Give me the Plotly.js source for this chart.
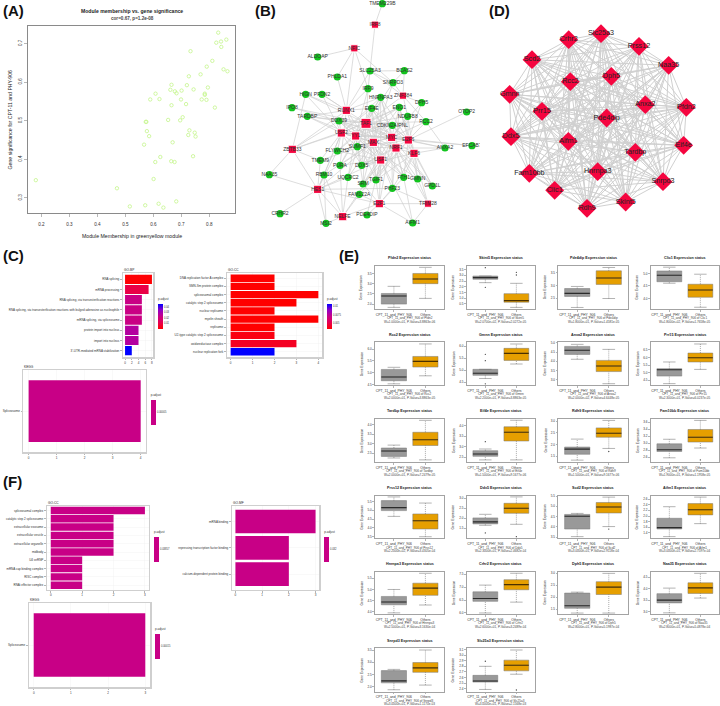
<!DOCTYPE html>
<html>
<head>
<meta charset="utf-8">
<script src="https://cdn.plot.ly/plotly-3.0.1.min.js"></script>
<style>html,body{margin:0;padding:0;background:#fff}#chart{width:720px;height:706px}</style>
</head>
<body>
<div id="chart"></div>
<script>
// ---------- Panel A ----------
const mmValues = [0.18,0.47,0.516,0.571,0.619,0.636,0.682,0.601,0.607,0.625,0.664,0.676,0.742,0.669,0.567,0.585,0.577,0.575,0.573,0.653,0.696,0.705,0.729,0.725,0.748,0.751,0.589,0.608,0.622,0.665,0.661,0.665,0.677,0.683,0.699,0.701,0.717,0.72,0.727,0.744,0.733,0.769,0.773,0.784,0.784,0.79,0.791,0.795,0.82,0.811,0.825,0.832,0.842,0.843,0.861,0.851,0.865];
const gsValues = [0.346,0.325,0.278,0.281,0.285,0.275,0.291,0.349,0.393,0.406,0.395,0.393,0.408,0.444,0.438,0.46,0.473,0.497,0.497,0.502,0.501,0.509,0.475,0.463,0.469,0.459,0.555,0.57,0.556,0.54,0.58,0.593,0.576,0.571,0.555,0.578,0.543,0.592,0.615,0.581,0.68,0.62,0.555,0.57,0.567,0.554,0.64,0.586,0.534,0.655,0.702,0.728,0.705,0.691,0.71,0.633,0.628];

// ---------- Panel B network ----------
const bNames = ["TMEM229B","IRF8","NFIC","ALDOAP","PHLDA1","SLC25A3","BCAS2","SNRPD3","IRF9","HIGN","PFDN2","ZNF384","HNRNPA3","DPH5","IPO8","RUNX1","EIF4E","ENO1","OTOP2","TARDBP","NDUFB8","RCC2","DDX39","TAF1","CDKN2AIPNL","USF2","YY1","MYC","E2F6","MAX","EFCAB7","ANXA2","SUMF1","NRF1","ZBTB33","FLYWCH2","KLF6","USF1","TMEM9","PURA","DDX5","RBM10","NAA35","UQCRC2","FTH1","TGIF1","GMNN","SRM","GPD1L","HES1","PHF23","FAM122A","E2F1","TRIM28","CRHR2","NELFE","PDE4DIP","MSI2","AIFM1"];
const bPosX = [427,405,343,233,292,390,493,459,384,197,246,489,422,545,156,319,395,478,680,202,503,558,297,378,457,304,347,455,505,400,696,615,352,468,157,292,522,422,241,300,365,252,88,324,491,408,533,369,577,233,457,358,418,564,120,308,381,258,518];
const bPosY = [11,74,145,171,231,213,212,248,266,283,283,287,292,308,323,331,325,322,336,349,349,365,363,370,376,399,408,412,420,427,437,444,440,444,448,453,460,480,481,496,496,525,524,532,532,540,537,552,558,568,565,583,611,611,641,650,645,670,669];
const bTF = ["IRF8","NFIC","ZNF384","RUNX1","TAF1","USF2","YY1","MYC","E2F6","MAX","NRF1","ZBTB33","KLF6","USF1","HES1","E2F1","TRIM28","NELFE"];
const bEdges = {
  TMEM229B:["IRF8"], IRF8:["SLC25A3"],
  NFIC:["ALDOAP","PHLDA1","IRF9","RUNX1","SNRPD3"],
  PHLDA1:["RUNX1"], SLC25A3:["BCAS2","IRF9","ZNF384","RUNX1","SNRPD3"], BCAS2:["ZNF384","SNRPD3"],
  SNRPD3:["TAF1","ZNF384","MAX"],
  HIGN:["RUNX1","TAF1","ZBTB33","USF2"], PFDN2:["RUNX1","TAF1","USF2"],
  IPO8:["DDX39","TAF1"], TARDBP:["DDX39","TAF1","USF2","RUNX1","YY1"],
  ZBTB33:["USF2","DDX39","TMEM9","NAA35","HES1","TAF1","RUNX1"],
  NAA35:["HES1"], CRHR2:["HES1"],
  HES1:["MSI2","NELFE","USF2","E2F1","FLYWCH2","TMEM9","RBM10","UQCRC2","USF1","MAX","PHF23"],
  MSI2:["NELFE","RBM10"], NELFE:["E2F1","RBM10","UQCRC2","PURA","FAM122A","USF1"],
  PDE4DIP:["E2F1","USF1"],
  E2F1:["AIFM1","TRIM28","FAM122A","SRM","TGIF1","PHF23","USF1","FTH1","MYC"],
  TRIM28:["AIFM1","KLF6","PHF23","GMNN","NRF1"], AIFM1:["FTH1","USF1"],
  GPD1L:["KLF6","NRF1","E2F6","MYC"], GMNN:["KLF6","E2F6","NRF1"],
  OTOP2:["E2F6"], EFCAB7:["E2F6","MYC"], ANXA2:["E2F6","KLF6","RCC2","MYC","NRF1"],
  RCC2:["ZNF384","TAF1","E2F6"], DPH5:["ZNF384","E2F6","MYC"], NDUFB8:["E2F6","MYC","ZNF384"],
  TAF1:["DDX39","IRF9","HNRNPA3","EIF4E","ENO1","NDUFB8","CDKN2AIPNL","SUMF1","FLYWCH2","DDX5","PURA","UQCRC2","SRM","TGIF1","FTH1","ZNF384","MYC","E2F6","MAX","USF1","NRF1","KLF6"],
  USF2:["DDX39","EIF4E","HNRNPA3","SUMF1","FLYWCH2","DDX5","TMEM9","RBM10","CDKN2AIPNL","ENO1","MYC","E2F6","MAX","NRF1","KLF6"],
  YY1:["DDX39","EIF4E","IRF9","HNRNPA3","ENO1","CDKN2AIPNL","SUMF1","FLYWCH2","PURA","DDX5","UQCRC2","TGIF1","SRM","MYC","E2F6","USF1","GMNN"],
  MAX:["DDX39","EIF4E","HNRNPA3","ENO1","CDKN2AIPNL","SUMF1","FLYWCH2","PURA","DDX5","UQCRC2","TGIF1","SRM","FTH1","PHF23","RBM10","TMEM9"],
  MYC:["DDX39","EIF4E","HNRNPA3","ENO1","NDUFB8","RCC2","SUMF1","DDX5","TGIF1","SRM","FTH1","PHF23","FLYWCH2"],
  E2F6:["HNRNPA3","ENO1","CDKN2AIPNL","EIF4E","SUMF1","DDX5","TGIF1","FTH1","FAM122A","DDX39"],
  NRF1:["EIF4E","ENO1","SUMF1","DDX5","TGIF1","FTH1","PHF23","SRM","HNRNPA3","DDX39"],
  USF1:["SUMF1","DDX5","TGIF1","PURA","EIF4E","FLYWCH2","FTH1","SRM","DDX39","HNRNPA3"],
  KLF6:["ENO1","CDKN2AIPNL","DDX5","TGIF1","FTH1","PHF23","NDUFB8"],
  RUNX1:["DDX39","EIF4E","IRF9","HNRNPA3","USF1","YY1","PURA"]
};

// ---------- Panel D network ----------
const dNames = ["Slc25a3","Crhr2","Prss12","Scd2","Naa35","Dph5","Rcc2","Gmnn","Anxa2","Pfdn2","Prr15","Pde4dip","Ddx5","Aifm1","Eif4e","Tardbp","Fam10bb","Hnrnpa3","Snrpd3","Clic1","Skint5","Rdh9"];
const dPosX = [363,266,477,156,566,394,271,89,496,619,186,380,93,265,611,466,148,353,549,224,437,321];
const dPosY = [101,119,139,179,196,229,245,283,314,322,334,354,410,424,436,457,520,515,545,571,606,625];

// ---------- Panel C bars ----------
const cBpTerms = ["RNA splicing","mRNA processing","RNA splicing, via transesterification reactions","RNA splicing, via transesterification reactions with bulged adenosine as nucleophile","mRNA splicing, via spliceosome","protein import into nucleus","import into nucleus","3'-UTR-mediated mRNA stabilization"];
const cBpCount = [8,7,5,5,5,4,4,2];
const cBpP = [0.0005,0.01,0.022,0.022,0.022,0.027,0.027,0.045];
const cBpTicks = [0.01,0.02,0.03,0.04];
const cCcTerms = ["DNA replication factor A complex","SMN-Sm protein complex","spliceosomal complex","catalytic step 2 spliceosome","nuclear replisome","myelin sheath","replisome","U2-type catalytic step 2 spliceosome","oxidoreductase complex","nuclear replication fork"];
const cCcCount = [2,2,4,3,2,4,2,2,3,2];
const cCcP = [0.0033,0.0033,0.0033,0.0033,0.0033,0.0033,0.0033,0.0037,0.0041,0.0108];
const cCcTicks = [0.005,0.0075,0.01];
const cKeggTerms = ["Spliceosome"];
const cKeggCount = [4];
const cKeggP = [0.00005];

// ---------- Panel F bars ----------
const fCcTerms = ["spliceosomal complex","catalytic step 2 spliceosome","extracellular exosome","extracellular vesicle","extracellular organelle","midbody","U4 snRNP","mRNA cap binding complex","RISC complex","RNAi effector complex"];
const fCcCount = [3,2,2,2,2,2,1,1,1,1];
const fCcP = [0.03857];
const fMfTerms = ["mRNA binding","repressing transcription factor binding","calcium-dependent protein binding"];
const fMfCount = [3,2,2];
const fMfP = [0.0320];
const fKeggTerms = ["Spliceosome"];
const fKeggCount = [3];
const fKeggP = [0.000150];

// ---------- Panel E boxes ----------
const eGenes = ["Pfdn2","Skint5","Pde4dip","Clic1","Rcc2","Gmnn","Anxa2","Prr15","Tardbp","Eif4e","Rdh9","Fam10bb","Prss12","Ddx5","Scd2","Aifm1","Hnrnpa3","Crhr2","Dph5","Naa35","Snrpd3","Slc25a3"];
const eStats = ["W=1.0000e+01, P-Value=3.8863e-06","W=2.0700e+02, P-Value=2.0272e-05","W=1.8000e+01, P-Value=1.4581e-05","W=1.8000e+02, P-Value=1.7658e-05","W=2.0000e+01, P-Value=3.8863e-05","W=2.2000e+01, P-Value=3.8863e-05","W=2.0000e+02, P-Value=4.6448e-05","W=2.3000e+01, P-Value=6.0237e-05","W=2.0000e+01, P-Value=7.2479e-05","W=1.5000e+01, P-Value=9.1677e-06","W=1.5000e+01, P-Value=9.1677e-06","W=1.9000e+01, P-Value=1.1958e-05","W=2.2000e+02, P-Value=3.4305e-04","W=2.3000e+01, P-Value=2.4682e-04","W=3.0000e+01, P-Value=2.9118e-04","W=3.0000e+01, P-Value=2.7597e-04","W=2.5000e+01, P-Value=3.1630e-04","W=2.6000e+01, P-Value=3.2489e-04","W=2.8000e+01, P-Value=5.1987e-04","W=2.8000e+01, P-Value=5.4878e-04","W=3.0000e+01, P-Value=1.1170e-03","W=3.0000e+01, P-Value=2.1568e-03"];
const eTicks = [[3.5,3,2.5,2],[3.5,3,2.5,2,1.5,1,0.5],[3.5,3,2.5],[5,4.5,4],[6,5.5,5,4.5],[6,5.5,5,4.5],[5,4.5,4,3.5,3],[6.5,6,5.5,5,4.5],[4,3.5,3,2.5],[4,3.5,3,2.5],[3,2.5,2,1.5],[3.6,3.4,3.2,3,2.8,2.6],[5.5,5,4.5,4,3.5],[3,2.5,2,1.5],[5.5,5,4.5,4,3.5],[2.6,2.4,2.2,2,1.8,1.6,1.4],[5.5,5,4.5,4],[7.5,7,6.5,6],[3,2.5,2,1.5],[4.5,4,3.5,3],[3.5,3,2.5,2],[3.1,3,2.9,2.8,2.7,2.6,2.5,2.4]];
const eRanges = [[1.76,3.88],[0.06,3.84],[2.08,3.77],[3.58,5.31],[4.48,6.29],[4.39,6.16],[2.73,5.02],[4.18,7.0],[2.05,4.29],[2.27,4.32],[1.25,3.09],[2.46,3.69],[3.4,5.83],[1.0,3.13],[3.45,5.52],[1.21,2.72],[3.91,5.79],[5.96,7.6],[1.29,3.07],[2.91,4.74],[1.8,3.57],[2.35,3.12]];
const grayLow = [1.84,2.36,2.14,4.61,4.53,4.66,4.11,4.27,2.26,2.37,1.33,2.58,4.65,1.65,3.53,1.27,3.96,6.0,1.33,2.96,1.88,2.39];
const grayQ1 = [2.0,2.65,2.57,4.67,4.66,4.79,4.37,4.77,2.34,2.54,1.58,2.76,4.98,1.72,3.9,1.54,4.32,6.45,1.53,3.39,2.16,2.52];
const grayMed = [2.4,2.8,2.69,4.93,4.82,4.88,4.59,5.19,2.62,2.65,1.8,2.81,5.15,1.82,4.52,1.59,4.44,6.56,1.64,3.51,2.24,2.54];
const grayQ3 = [2.52,2.94,2.88,5.1,5.14,5.04,4.8,5.26,2.78,2.81,1.89,2.98,5.55,2.02,4.61,1.92,4.69,6.82,2.17,3.79,2.66,2.64];
const grayHigh = [2.87,2.94,2.96,5.25,5.23,5.04,4.91,5.7,2.93,2.89,2.23,3.11,5.76,2.2,4.66,2.33,5.0,7.08,2.21,4.03,2.71,2.8];
const orangeLow = [2.28,0.2,2.49,3.65,4.87,5.26,2.8,5.21,2.16,2.37,1.83,2.86,3.49,1.7,4.02,1.73,4.31,6.42,1.33,3.6,2.07,2.66];
const orangeQ1 = [3.0,0.65,3.04,4.05,5.24,5.41,3.45,5.7,2.91,3.27,2.31,3.03,3.93,2.25,4.68,2.04,4.74,6.9,2.11,3.8,2.59,2.72];
const orangeMed = [3.23,0.79,3.29,4.34,5.48,5.7,3.75,5.98,3.21,3.69,2.48,3.17,4.4,2.5,4.97,2.22,5.06,7.1,2.42,4.04,2.77,2.82];
const orangeQ3 = [3.5,1.4,3.57,4.57,5.69,5.91,4.05,6.29,3.6,3.95,2.71,3.39,4.79,2.75,5.19,2.44,5.28,7.29,2.65,4.26,2.99,2.91];
const orangeHigh = [3.8,2.3,3.7,4.97,6.22,6.09,4.64,6.89,4.22,4.26,3.03,3.65,5.41,3.07,5.45,2.67,5.72,7.54,3.0,4.67,3.5,3.09];
const grayOut = [[],[3.67,1.95],[],[],[],[5.66,5.4,4.44],[],[],[],[3.24],[],[],[],[1.27],[],[],[],[],[],[],[],[2.89]];
const orangeOut = [[],[3.26,3.03],[],[],[],[],[],[],[],[],[1.7],[2.52],[],[1.08],[3.9],[],[],[],[],[],[],[2.38]];

// ---------- helpers ----------
const W = 720, H = 706;
const traces = [];
const layout = {width:W, height:H, margin:{l:0,r:0,t:0,b:0,pad:0}, paper_bgcolor:'#fff', plot_bgcolor:'#fff',
  showlegend:false, boxmode:'overlay', barmode:'overlay', annotations:[], font:{family:'"Liberation Sans",Arial,sans-serif',color:'#222'}};
let axisCount = 0;
function addAxes(box, xo, yo){
  axisCount++;
  const s = axisCount === 1 ? '' : String(axisCount);
  layout['xaxis'+s] = Object.assign({domain:[box[0]/W, box[1]/W], anchor:'y'+s, zeroline:false, showgrid:false}, xo);
  layout['yaxis'+s] = Object.assign({domain:[1-box[3]/H, 1-box[2]/H], anchor:'x'+s, zeroline:false, showgrid:false}, yo);
  return {xaxis:'x'+s, yaxis:'y'+s};
}
function note(text, x, y, size, opts){
  layout.annotations.push(Object.assign({text:text, x:x/W, y:1-y/H, xref:'paper', yref:'paper', showarrow:false,
    xanchor:'center', yanchor:'middle', font:{size:size, color:'#222'}, borderpad:0}, opts||{}));
}
function edgeLine(pairs, lookup){
  const xs = [], ys = [];
  pairs.forEach(p => { const a = lookup[p[0]], b = lookup[p[1]]; xs.push(a[0], b[0], null); ys.push(a[1], b[1], null); });
  return {xs, ys};
}

// panel letters
[["(A)",2,11],["(B)",254,11],["(C)",2,255],["(D)",488,11],["(E)",338,256],["(F)",2,482]].forEach(l =>
  note('<b>'+l[0]+'</b>', l[1], l[2], 15, {xanchor:'left', font:{size:15, color:'#111'}}));

// ---------- A ----------
const frameA = {showline:true, mirror:true, linecolor:'#8a8a8a', linewidth:1.2, ticks:'outside', ticklen:2.5, tickcolor:'#888', tickwidth:0.6, tickfont:{size:4.6,color:'#333'}};
let ax = addAxes([28,235,25.7,213],
  Object.assign({}, frameA, {range:[0.152,0.892], tickmode:'array', tickvals:[0.2,0.3,0.4,0.5,0.6,0.7,0.8], ticktext:['0.2','0.3','0.4','0.5','0.6','0.7','0.8'], ticklabelstandoff:4}),
  Object.assign({}, frameA, {range:[0.261,0.746], tickmode:'array', tickvals:[0.3,0.4,0.5,0.6,0.7], ticktext:['0.3','0.4','0.5','0.6','0.7'], tickangle:-90}));
traces.push(Object.assign({type:'scatter', mode:'markers', x:mmValues, y:gsValues, hoverinfo:'skip',
  marker:{symbol:'circle-open', size:3.4, color:'#c4f58c', line:{width:0.8, color:'#c4f58c'}}}, ax));
note('<b>Module membership vs. gene significance</b>', 132, 11, 5.1);
note('<b>cor=0.67, p=1.2e-08</b>', 132, 18, 4.6, {font:{size:4.6,color:'#444'}});
note('Module Membership in greenyellow module', 132, 236, 5.2);
note('Gene significance for CPT-11 and PHY-906', 9.5, 120, 5.2, {textangle:-90});

// ---------- B ----------
const bLookup = {}; bNames.forEach((n,i) => bLookup[n] = [bPosX[i], bPosY[i]]);
const bPairs = [];
Object.keys(bEdges).forEach(k => bEdges[k].forEach(t => bPairs.push([k,t])));
const hiddenAxis = {visible:false};
ax = addAxes([240,480,0,240], Object.assign({range:[0,720]},hiddenAxis), Object.assign({range:[720,0]},hiddenAxis));
let e = edgeLine(bPairs, bLookup);
traces.push(Object.assign({type:'scatter', mode:'lines', x:e.xs, y:e.ys, hoverinfo:'skip', line:{color:'#cfcfcf', width:0.7}}, ax));
const bGreen = bNames.filter(n => !bTF.includes(n));
traces.push(Object.assign({type:'scatter', mode:'markers+text', x:bGreen.map(n=>bLookup[n][0]), y:bGreen.map(n=>bLookup[n][1]), text:bGreen,
  textposition:'middle center', textfont:{size:5,color:'#333'}, hoverinfo:'skip', marker:{symbol:'circle', size:7.2, color:'#12c41e', opacity:1}}, ax));
traces.push(Object.assign({type:'scatter', mode:'markers+text', x:bTF.map(n=>bLookup[n][0]), y:bTF.map(n=>bLookup[n][1]), text:bTF,
  textposition:'middle center', textfont:{size:5,color:'#333'}, hoverinfo:'skip',
  marker:{symbol:'square', opacity:1, size:bTF.map(n=>n==='TAF1'?10:(['YY1','MAX','USF2','MYC','E2F6','NRF1','RUNX1','KLF6','USF1','HES1','E2F1','NELFE','ZBTB33'].includes(n)?8.2:7.2)), color:'#f5053f'}}, ax));

// ---------- D ----------
const dLookup = {}; dNames.forEach((n,i) => dLookup[n] = [dPosX[i], dPosY[i]]);
const dPairs = [];
dNames.forEach((a,i) => dNames.forEach((b,j) => { if (j>i) dPairs.push([a,b]); }));
ax = addAxes([480,720,0,225], Object.assign({range:[0,720]},hiddenAxis), Object.assign({range:[675,0]},hiddenAxis));
e = edgeLine(dPairs, dLookup);
traces.push(Object.assign({type:'scatter', mode:'lines', x:e.xs, y:e.ys, hoverinfo:'skip', line:{color:'#d0d0d0', width:1}}, ax));
traces.push(Object.assign({type:'scatter', mode:'markers+text', x:dPosX, y:dPosY, text:dNames, textposition:'middle center',
  textfont:{size:7.2,color:'#222'}, hoverinfo:'skip', marker:{symbol:'diamond', size:14.5, color:'#f5053f', opacity:1}}, ax));

// ---------- Bars ----------
const redBlue = [[0,'#ff0000'],[0.25,'#e6004f'],[0.5,'#c80086'],[0.75,'#9400c4'],[1,'#0000ff']];
const magenta = [[0,'#c80086'],[1,'#c80086']];
function barPanel(title, terms, counts, pvals, box, xrange, xticks, pad, cb){
  const n = terms.length;
  const grid = {showgrid:true, gridcolor:'#efefef', gridwidth:0.4};
  const frame = {showline:true, mirror:true, linecolor:'#cfcfcf', linewidth:1.2, ticks:'outside', ticklen:1.6, tickwidth:0.4, tickcolor:'#444', tickfont:{size:3,color:'#333'}};
  const a = addAxes(box,
    Object.assign({}, frame, grid, {range:xrange, tickmode:'array', tickvals:xticks, ticktext:xticks.map(String)}),
    Object.assign({}, frame, grid, {type:'category', categoryorder:'array', categoryarray:terms, range:[n-1+pad,-pad], tickmode:'array', tickvals:terms, ticktext:terms}));
  const single = pvals.length === 1;
  const titleRoom = 11;
  const mk = {
    color: terms.map((t,i)=> single ? pvals[0] : pvals[i]),
    colorscale: single ? magenta : redBlue,
    cmin: single ? pvals[0]*0.5 : cb.cmin,
    cmax: single ? pvals[0]*1.5 : cb.cmax,
    showscale:true,
    colorbar:{x:cb.x/W, xanchor:'left', y:1-(cb.y+cb.len/2-titleRoom/2)/H, yanchor:'middle', len:cb.len+titleRoom, lenmode:'pixels', thickness:cb.w, thicknessmode:'pixels',
      xpad:0, ypad:0, outlinewidth:0, borderwidth:0, ticks:'', tickfont:{size:2.6,color:'#333'}, tickmode:'array',
      tickvals: single ? [pvals[0]] : cb.ticks, ticktext: (single ? [pvals[0]] : cb.ticks).map(String),
      title:{text:'p.adjust', side:'top', font:{size:3,color:'#333'}}}
  };
  traces.push(Object.assign({type:'bar', orientation:'h', x:counts, y:terms, width:0.9, hoverinfo:'skip', marker:mk}, a));
  note(title, box[0], box[2]-2.8, 3.2, {xanchor:'left'});
}
barPanel('GO-BP', cBpTerms, cBpCount, cBpP, [122.7,153.3,272.7,357.3], [-0.7,8.4], [0,2,4,6,8], 0.65, {x:158,y:305.7,len:23.4,w:4.7,cmin:0,cmax:0.045,ticks:cBpTicks});
barPanel('GO-CC', cCcTerms, cCcCount, cCcP, [226.7,322.3,272.7,357.3], [-0.18,4.18], [0,1,2,3,4], 0.68, {x:327,y:305.7,len:23.4,w:4.7,cmin:0.0033,cmax:0.0108,ticks:cCcTicks});
barPanel('KEGG', cKeggTerms, cKeggCount, cKeggP, [23.3,146,370,452.3], [-0.19,4.19], [0,1,2,3,4], 0.6, {x:150.7,y:401.7,len:22.6,w:4.7});
barPanel('GO-CC', fCcTerms, fCcCount, fCcP, [46.7,149,505.7,590], [-0.13,3.13], [0,1,2,3], 0.58, {x:154,y:538.3,len:23.4,w:4.7});
barPanel('GO-MF', fMfTerms, fMfCount, fMfP, [231.7,319.3,505.7,590], [-0.14,3.14], [0,1,2,3], 0.6, {x:324.3,y:538.3,len:23.4,w:4.7});
barPanel('KEGG', fKeggTerms, fKeggCount, fKeggP, [28.7,150.3,602.7,687.3], [-0.135,3.135], [0,1,2,3], 0.6, {x:155,y:635.7,len:23.4,w:4.7});

// ---------- E ----------
const colX0 = [375,466.7,558.3,650.7], colX1 = [444.3,535,627.7,719];
const rowY0 = [265.7,342.3,419,495.7,571.7,648.3], rowY1 = [309,385,462,538.3,614,691.7];
const eGroups = ['CPT_11_and_PHY_906','Others'];
eGenes.forEach((g,i) => {
  const c = i%4, r = Math.floor(i/4);
  const box = [colX0[c],colX1[c],rowY0[r],rowY1[r]];
  const frame = {showline:true, mirror:true, linecolor:'#a3a3a3', linewidth:1, ticks:'outside', ticklen:1.6, tickwidth:0.4, tickcolor:'#444', tickfont:{size:3.1,color:'#333'}};
  const a = addAxes(box,
    Object.assign({}, frame, {range:[0.4,2.6], tickmode:'array', tickvals:[1,2], ticktext:eGroups, tickfont:{size:3.4,color:'#333'}}),
    Object.assign({}, frame, {range:eRanges[i], tickmode:'array', tickvals:eTicks[i], ticktext:eTicks[i].map(v=>v.toFixed(1))}));
  [[1,'#999999','#2b2b2b',grayLow,grayQ1,grayMed,grayQ3,grayHigh,grayOut],
   [2,'#e69f00','#4a3000',orangeLow,orangeQ1,orangeMed,orangeQ3,orangeHigh,orangeOut]].forEach(s => {
    const cxv = s[0], lo = s[3][i], q1 = s[4][i], med = s[5][i], q3 = s[6][i], hi = s[7][i];
    // dotted whiskers and solid caps, R boxplot style
    traces.push(Object.assign({type:'scatter', mode:'lines', x:[cxv,cxv,null,cxv,cxv], y:[lo,q1,null,q3,hi], hoverinfo:'skip', line:{color:'#555', width:0.5, dash:'1px,1px'}}, a));
    traces.push(Object.assign({type:'scatter', mode:'lines', x:[cxv-0.2,cxv+0.2,null,cxv-0.2,cxv+0.2], y:[lo,lo,null,hi,hi], hoverinfo:'skip', line:{color:'#666', width:0.5}}, a));
    traces.push(Object.assign({type:'box', x:[cxv], lowerfence:[q1], q1:[q1], median:[med], q3:[q3], upperfence:[q3],
      width:0.8, whiskerwidth:0, fillcolor:s[1], boxpoints:false, hoverinfo:'skip', line:{color:'#777', width:0.5}}, a));
    traces.push(Object.assign({type:'scatter', mode:'lines', x:[cxv-0.4,cxv+0.4], y:[med,med], hoverinfo:'skip', line:{color:s[2], width:1.1}}, a));
    if (s[8][i].length) traces.push(Object.assign({type:'scatter', mode:'markers', x:s[8][i].map(()=>cxv), y:s[8][i], hoverinfo:'skip',
      marker:{symbol:'circle', size:1.3, color:'#444'}}, a));
  });
  const cx = (box[0]+box[1])/2;
  note('<b>'+g+' Expression status</b>', cx, box[2]-7.6, 3.7);
  note('CPT_11_and_PHY_906 of '+g, cx, box[3]+9.2, 3.1, {font:{size:3.1,color:'#444'}});
  note(eStats[i], cx, box[3]+12.5, 3.1, {font:{size:3.1,color:'#444'}});
  note('Gene Expression', box[0]-13.3, (box[2]+box[3])/2, 3.2, {textangle:-90});
});

Plotly.newPlot('chart', traces, layout, {displayModeBar:false, staticPlot:true});
</script>
</body>
</html>
